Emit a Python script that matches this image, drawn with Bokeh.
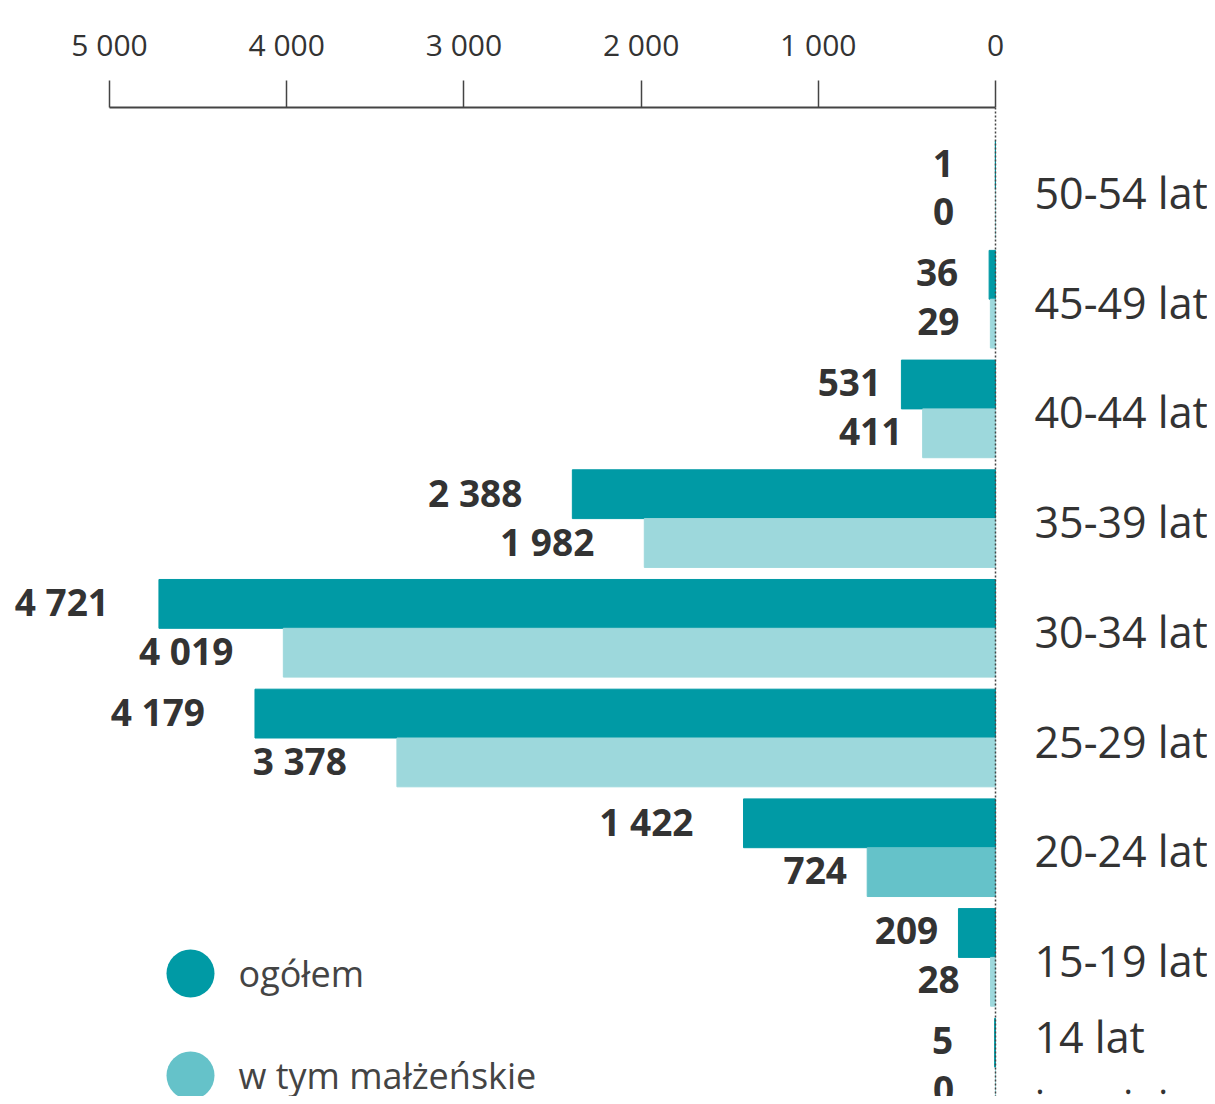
from bokeh.plotting import figure
from bokeh.models import ColumnDataSource, Range1d, FixedTicker, Span
from bokeh.core.properties import value
from bokeh.embed import file_html
from bokeh.resources import INLINE

# ---- data ----
categories = ["50-54 lat", "45-49 lat", "40-44 lat", "35-39 lat", "30-34 lat",
              "25-29 lat", "20-24 lat", "15-19 lat", "14 lat\ni mniej"]
ogolem = [1, 36, 531, 2388, 4721, 4179, 1422, 209, 5]
malzenskie = [0, 29, 411, 1982, 4019, 3378, 724, 28, 0]
series_names = ["ogółem", "w tym małżeńskie"]
tick_values = [0, 1000, 2000, 3000, 4000, 5000]
tick_labels = ["0", "1 000", "2 000", "3 000", "4 000", "5 000"]

# ---- style ----
DARK = "#009AA5"
LIGHT = "#9DD8DC"
HIGHLIGHT = "#65C2C9"
TEXT = "#333333"
FONT = value("Open Sans")

# ---- geometry ----
W, H = 1207, 1096
TOP = 107               # frame top (figure px)
ZERO_PX = 995           # x position of value 0 (figure px)
PX_PER_UNIT = 0.1772
PITCH = 109.7           # px per category
G0 = 82                 # first category centre below frame top (px)
FRAME_H = H - TOP

x_start = ZERO_PX / PX_PER_UNIT
x_end = (ZERO_PX - W) / PX_PER_UNIT
y_top = -G0 / PITCH
y_bottom = (FRAME_H - G0) / PITCH


def px2x(px):
    return (ZERO_PX - px) / PX_PER_UNIT


def px2y(py):
    return (py - TOP - G0) / PITCH


BAR_H = 0.445
idx = list(range(len(categories)))

p = figure(width=W, height=H, output_backend="svg", toolbar_location=None,
           x_range=Range1d(x_start, x_end), y_range=Range1d(y_bottom, y_top),
           x_axis_location="above", y_axis_location=None,
           min_border_left=0, min_border_right=0, min_border_bottom=0,
           min_border_top=TOP)
p.outline_line_color = None
p.xgrid.visible = False
p.ygrid.visible = False
p.background_fill_color = "white"
p.border_fill_color = "white"

light_colors = [HIGHLIGHT if c == "20-24 lat" else LIGHT for c in categories]

src = ColumnDataSource(dict(
    y_dark=[i - BAR_H / 2 for i in idx],
    y_light=[i + BAR_H / 2 for i in idx],
    ogolem=ogolem, malzenskie=malzenskie, light_color=light_colors,
))
p.hbar(y="y_dark", left=0, right="ogolem", height=BAR_H, color=DARK, source=src)
p.hbar(y="y_light", left=0, right="malzenskie", height=BAR_H,
       fill_color="light_color", line_color="light_color", source=src)


def fmt(v):
    return f"{v:,}".replace(",", " ")


def label_cols(vals, ys):
    return dict(
        x=vals, y=ys, text=[fmt(v) for v in vals],
        align=["right" if v >= 1000 else "center" for v in vals],
        xo=[-50 if v >= 1000 else -52 for v in vals],
    )


lab = ColumnDataSource({k: a + b for (k, a), (_, b) in zip(
    label_cols(ogolem, [i - BAR_H / 2 for i in idx]).items(),
    label_cols(malzenskie, [i + BAR_H / 2 for i in idx]).items())})
p.text(x="x", y="y", text="text", source=lab, text_align="align",
       x_offset="xo", y_offset=-2, text_baseline="middle",
       text_font=FONT, text_font_style="bold", text_font_size="37px",
       text_color=TEXT)

# category labels
p.text(x=[0] * len(categories), y=idx, text=categories, x_offset=39, y_offset=3,
       text_align="left", text_baseline="middle", text_font=FONT,
       text_font_size="43px", text_color=TEXT, text_line_height=1.15)

# zero line
p.add_layout(Span(location=0, dimension="height", line_color="#444444",
                  line_dash="2 2", line_width=1.5))

# axis
ax = p.xaxis[0]
ax.ticker = FixedTicker(ticks=tick_values)
ax.major_label_overrides = dict(zip(tick_values, tick_labels))
ax.bounds = (0, 5000)
ax.major_tick_out = 27
ax.major_tick_in = 0
ax.minor_tick_line_color = None
ax.axis_line_width = 2
ax.axis_line_color = "#444444"
ax.major_tick_line_width = 1.5
ax.major_tick_line_color = "#444444"
ax.major_label_text_font = "Open Sans"
ax.major_label_text_font_size = "30px"
ax.major_label_text_color = TEXT
ax.major_label_standoff = 16

# legend (drawn manually)
leg_y = [px2y(973), px2y(1075)]
p.scatter(x=[px2x(190)] * 2, y=leg_y, size=48, color=[DARK, HIGHLIGHT],
          line_color=None)
p.text(x=[px2x(238)] * 2, y=leg_y, text=series_names, text_align="left",
       text_baseline="middle", text_font=FONT, text_font_size="36px",
       text_color="#444444")

open("out.html", "w").write(file_html(p, INLINE))
